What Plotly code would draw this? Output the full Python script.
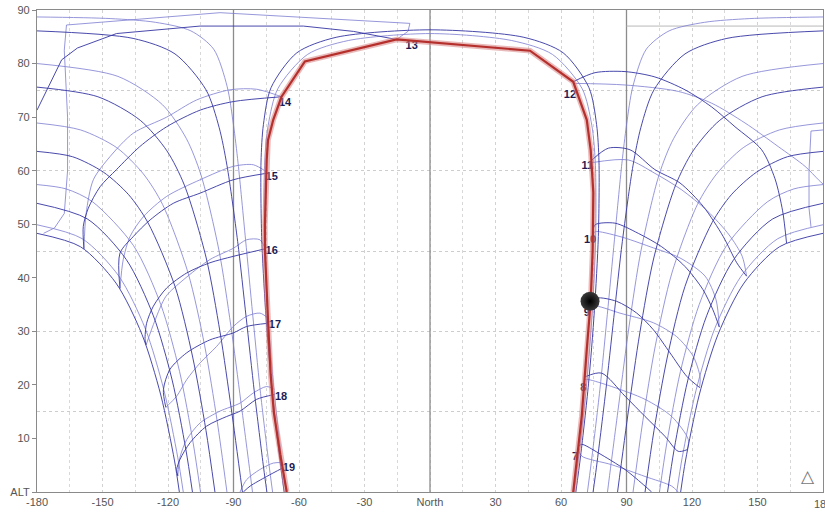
import plotly.graph_objects as go

# ---------------- axis ticks / grid ----------------
x_ticks = [-180, -150, -120, -90, -60, -30, 0, 30, 60, 90, 120, 150]
x_tick_text = ["-180", "-150", "-120", "-90", "-60", "-30", "North", "30", "60", "90", "120", "150"]
x_edge_tick = [180]
x_edge_text = ["180"]
x_minor_grid = [-165, -135, -105, -75, -45, -15, 15, 45, 75, 105, 135, 165, 180]
y_ticks = [0, 10, 20, 30, 40, 50, 60, 70, 80, 90]
y_tick_text = ["ALT", "10", "20", "30", "40", "50", "60", "70", "80", "90"]
y_grid = [15, 30, 45, 60, 75]
ref_az = [-90, 0, 90]

# ---------------- day paths (west half: horizon -> meridian), [azimuth, altitude] ----------------
path_dec_dark = [[-114.8, 0], [-117.0, 5.8], [-123.3, 18.1], [-131.9, 29.4], [-143.8, 39.0], [-160.1, 45.8], [-180, 48.3]]
path_m54_dark = [[-108.8, 0], [-111.8, 7.9], [-118.1, 20.9], [-126.7, 32.9], [-139.1, 43.4], [-157.0, 51.0], [-180, 53.9]]
path_m64_dark = [[-98.5, 0], [-102.6, 11.5], [-108.7, 25.2], [-116.8, 38.4], [-129.2, 50.3], [-138.0, 55.5],
                 [-149.5, 59.7], [-163.7, 62.6], [-180, 63.6]]
path_m76_dark = [[-85.9, 0], [-91.0, 15.5], [-96.1, 29.7], [-102.5, 43.7], [-112.5, 57.3], [-120.5, 63.7],
                 [-132.7, 69.4], [-152.1, 73.8], [-180, 75.6]]
path_m86_dark = [[-74.7, 0], [-76.2, 4.5], [-80.4, 18.5], [-84.2, 32.6], [-88.1, 46.8], [-93.0, 61.0], [-96.6, 68.1],
                 [-102.6, 75.1], [-116.8, 81.8], [-136.0, 84.7], [-180, 86.1]]
path_north_dark = [[-66.8, 0], [-69.0, 6.8], [-72.6, 20.2], [-75.3, 33.9], [-77.1, 47.7], [-77.4, 61.6], [-76.3, 68.6],
                   [-72.8, 75.5], [-61.0, 82.0], [-43.0, 84.9], [0, 86.3]]

path_m50_light = [[-113.0, 0], [-115.5, 6.4], [-121.8, 18.9], [-130.4, 30.5], [-142.5, 40.3], [-159.3, 47.3], [-180, 49.9]]
path_m57_light = [[-105.1, 0], [-108.5, 9.2], [-114.7, 22.5], [-123.3, 35.0], [-135.8, 46.0], [-154.6, 54.2],
                  [-166.7, 56.6], [-180, 57.4]]
path_m69_light = [[-93.0, 0], [-97.5, 13.3], [-103.2, 27.3], [-110.8, 40.9], [-122.5, 53.7], [-131.3, 59.4],
                  [-143.5, 64.3], [-160.0, 67.6], [-180, 68.9]]
path_m80_light = [[-81.3, 0], [-82.1, 2.6], [-86.6, 16.8], [-91.2, 31.0], [-96.7, 45.2], [-104.9, 59.2], [-111.6, 66.0],
                  [-122.5, 72.3], [-142.9, 77.6], [-180, 80.0]]
path_m89_light = [[-72.1, 0], [-73.8, 5.3], [-77.8, 19.1], [-81.2, 33.1], [-84.5, 47.2], [-87.9, 61.4], [-90.0, 68.5],
                  [-92.9, 75.7], [-99.1, 82.7], [-109.5, 86.1], [-125.7, 87.7], [-146.5, 88.4], [-180, 88.7]]
path_north_light = [[-65.9, 0], [-68.2, 7.0], [-71.8, 20.4], [-74.4, 34.0], [-75.9, 47.8], [-75.7, 61.6], [-74.1, 68.5],
                    [-69.7, 75.3], [-56.1, 81.7], [-37.4, 84.3], [0, 85.6]]

# ---------------- hour lines (two branches each) ----------------
hour_dark = {
    7: [[67.9, 8.5], [69.5, 8.9], [77.1, 7.3], [89.3, 4.2], [98.5, 1.1], [101.5, 0]],
    8: [[70.9, 21.5], [78.6, 22.2], [89.3, 17.9], [98.5, 14.1], [107.6, 10.4], [113.7, 7.6], [117.8, 7.9]],
    9: [[73.4, 35.0], [76.3, 36.2], [85.5, 35.6], [94.7, 33.4], [102.3, 30.3], [109.9, 26.0], [117.6, 21.6], [123.5, 19.5]],
    10: [[74.6, 48.5], [75.6, 49.9], [84.7, 50.2], [95.4, 48.3], [106.1, 45.8], [116.8, 42.1], [125.0, 37.8],
         [129.6, 34.0], [132.5, 30.8]],
    11: [[74.2, 62.0], [81.7, 64.2], [91.6, 63.9], [103.0, 60.2], [114.5, 57.7], [125.2, 53.3], [134.3, 47.7],
         [140.5, 42.8], [145.0, 40.3]],
    12: [[65.6, 76.6], [75.6, 78.3], [89.3, 78.5], [103.0, 77.5], [116.8, 75.1], [129.0, 71.9], [139.7, 68.2],
         [151.9, 63.9], [158.0, 58.5], [161.5, 52.5], [163.3, 46.5]],
    14: [[-68.0, 73.8], [-90.1, 72.9], [-105.3, 71.3], [-120.6, 68.2], [-132.9, 64.5], [-143.6, 60.2], [-151.1, 57.0],
         [-156.5, 53.0], [-158.8, 49.6], [-158.5, 45.4]],
    15: [[-75.0, 59.5], [-90.1, 58.3], [-105.3, 55.8], [-117.6, 53.9], [-128.2, 50.8], [-135.9, 47.7], [-142.0, 44.6],
         [-142.0, 38.0]],
    16: [[-75.6, 45.4], [-90.1, 44.0], [-100.8, 42.8], [-111.4, 40.9], [-120.6, 38.1], [-126.7, 34.7], [-129.8, 31.5],
         [-130.5, 28.4], [-130.0, 27.5]],
    17: [[-74.3, 31.5], [-84.0, 30.9], [-90.1, 29.7], [-100.8, 28.4], [-111.4, 26.0], [-119.1, 22.9], [-122.1, 19.1],
         [-121.0, 15.8]],
    18: [[-71.3, 18.2], [-79.4, 17.3], [-87.0, 15.1], [-93.1, 14.1], [-102.3, 12.3], [-109.9, 9.2], [-114.5, 6.1],
         [-116.0, 4.2], [-115.5, 3.0]],
    19: [[-67.4, 4.5], [-74.8, 2.9], [-82.4, 1.1], [-85.5, 0]],
}
hour_light = {
    7: [[67.9, 8.0], [69.5, 6.7], [83.2, 5.1], [98.5, 2.9], [110.7, 1.1], [113.7, 0]],
    8: [[70.9, 21.0], [72.5, 21.0], [83.2, 19.7], [98.5, 17.3], [110.7, 14.1], [118.3, 9.8], [117.8, 7.9]],
    9: [[73.4, 34.5], [76.3, 34.7], [87.0, 33.4], [102.3, 31.6], [113.0, 29.0], [120.6, 25.3], [123.7, 21.5], [123.5, 19.5]],
    10: [[74.6, 48.0], [75.6, 48.6], [87.0, 47.7], [100.8, 45.8], [114.5, 43.7], [126.0, 40.3], [131.0, 35.9], [132.5, 30.8]],
    11: [[74.2, 61.5], [90.8, 62.0], [103.0, 59.5], [115.0, 56.5], [127.0, 52.5], [137.0, 48.0], [143.0, 44.0], [145.0, 40.3]],
    12: [[65.6, 76.3], [89.3, 76.0], [113.7, 74.8], [129.0, 72.6], [144.3, 68.9], [159.5, 64.5], [171.8, 60.8],
         [177.9, 58.3], [180, 57.5]],
    14: [[-68.0, 73.8], [-79.4, 75.2], [-91.6, 75.1], [-106.9, 73.2], [-120.6, 70.0], [-135.9, 67.0], [-146.6, 62.6],
         [-154.2, 58.3], [-157.5, 52.0], [-158.5, 45.4]],
    15: [[-75.0, 59.8], [-80.9, 61.1], [-90.1, 60.8], [-105.3, 58.3], [-120.6, 55.2], [-131.3, 51.4], [-137.4, 47.7],
         [-140.5, 43.4], [-142.0, 38.0]],
    16: [[-75.6, 45.6], [-77.9, 47.1], [-84.0, 47.1], [-90.1, 45.5], [-100.8, 43.4], [-113.0, 39.6], [-121.0, 36.5],
         [-126.0, 32.0], [-130.0, 27.5]],
    17: [[-74.3, 32.5], [-77.9, 33.4], [-84.0, 32.8], [-90.1, 30.9], [-97.7, 27.2], [-105.3, 24.1], [-111.4, 21.0],
         [-116.0, 17.9], [-121.0, 15.8]],
    18: [[-71.3, 19.2], [-74.8, 19.7], [-80.9, 18.5], [-87.0, 16.6], [-96.2, 15.1], [-105.3, 12.9], [-111.4, 9.8],
         [-114.5, 6.5], [-115.5, 3.0]],
    19: [[-67.4, 5.5], [-71.8, 5.4], [-77.9, 4.2], [-84.0, 2.3], [-87.0, 0]],
}
# the 13 o'clock line runs near the zenith and wraps across the south meridian
hour13_dark = [[-15.3, 84.5], [-35.0, 86.0], [-58.0, 87.0], [-90.2, 87.0], [-105.3, 87.0], [-143.6, 85.6],
               [-161.5, 82.9], [-168.7, 80.7], [-180, 71.3]]
hour13_light = [[-15.3, 84.5], [-10.1, 86.0], [-9.2, 87.5], [-96.2, 89.5], [-166.5, 87.2], [-167.5, 82.5],
                [-166.0, 70.0], [-166.0, 60.0], [-167.5, 52.0], [-172.0, 49.3], [-177.0, 48.3]]
edge_piece_light = [[180, 67.6], [174.5, 67.4], [173.6, 60.0], [173.6, 53.0], [174.5, 49.5]]
obstruction_line = [[90, 87.0], [180, 87.0]]

# ---------------- highlighted day (red) ----------------
red_az = [-65.6, -68.6, -71.5, -73.0, -74.0, -75.0, -75.6, -75.6, -75.2, -74.8, -74.2, -71.8, -68.0, -57.3, -15.3,
          45.8, 65.6, 71.8, 73.6, 74.8, 74.5, 73.6, 71.8, 69.5, 65.6]
red_alt = [0, 7.0, 14.8, 22.0, 30.3, 38.0, 45.2, 50.0, 56.0, 62.0, 65.7, 69.5, 73.8, 80.4, 84.5,
           82.4, 76.6, 69.5, 63.9, 55.9, 45.2, 35.6, 26.6, 14.1, 0]

hour_labels = ["7", "8", "9", "10", "11", "12", "13", "14", "15", "16", "17", "18", "19"]
label_az = [66.4, 70.2, 71.8, 73.3, 72.0, 64.1, -8.4, -66.4, -72.5, -72.5, -71.0, -68.2, -64.6]
label_alt = [6.4, 19.4, 33.4, 47.1, 60.8, 74.1, 83.2, 72.5, 58.8, 44.9, 31.2, 17.6, 4.5]

sun_az = [73.3]
sun_alt = [35.6]

DARK = "rgba(58,58,165,0.92)"
LIGHT = "rgba(125,125,210,0.80)"
FONT = "Liberation Sans, Arial, sans-serif"


def mirror(seg):
    return [[-a, h] for a, h in seg]


def flatten(segs):
    xs, ys = [], []
    for s in segs:
        for a, h in s:
            xs.append(a)
            ys.append(h)
        xs.append(None)
        ys.append(None)
    return xs, ys


dark_south = [path_dec_dark, path_m54_dark, path_m64_dark, path_m76_dark, path_m86_dark]
light_south = [path_m50_light, path_m57_light, path_m69_light, path_m80_light, path_m89_light]

dark_segs = []
for p in dark_south:
    dark_segs += [p, mirror(p)]
dark_segs.append(path_north_dark + mirror(path_north_dark)[::-1][1:])
dark_segs += list(hour_dark.values())

light_segs = []
for p in light_south:
    light_segs += [p, mirror(p)]
light_segs.append(path_north_light + mirror(path_north_light)[::-1][1:])
light_segs += list(hour_light.values())

fig = go.Figure()

# reference meridian lines (West / North / East)
rx, ry = [], []
for a in ref_az:
    rx += [a, a, None]
    ry += [0, 90, None]
fig.add_trace(go.Scatter(x=rx, y=ry, mode="lines", line=dict(color="#8c8c8c", width=1.3), hoverinfo="skip"))

ox, oy = flatten([obstruction_line])
fig.add_trace(go.Scatter(x=ox, y=oy, mode="lines", line=dict(color="#b8b8b8", width=1), hoverinfo="skip"))

lx, ly = flatten(light_segs)
fig.add_trace(go.Scatter(x=lx, y=ly, mode="lines", line=dict(color=LIGHT, width=1, shape="spline", smoothing=0.8),
                         hoverinfo="skip"))
lx2, ly2 = flatten([hour13_light, edge_piece_light])
fig.add_trace(go.Scatter(x=lx2, y=ly2, mode="lines", line=dict(color=LIGHT, width=1), hoverinfo="skip"))

dx, dy = flatten(dark_segs)
fig.add_trace(go.Scatter(x=dx, y=dy, mode="lines", line=dict(color=DARK, width=1, shape="spline", smoothing=0.8),
                         hoverinfo="skip"))
dx2, dy2 = flatten([hour13_dark])
fig.add_trace(go.Scatter(x=dx2, y=dy2, mode="lines", line=dict(color=DARK, width=1), hoverinfo="skip"))

fig.add_trace(go.Scatter(x=label_az, y=label_alt, mode="text", text=hour_labels,
                         textfont=dict(family=FONT, size=11, color="#1c1c55", weight="bold"),
                         hoverinfo="skip"))

fig.add_trace(go.Scatter(x=red_az, y=red_alt, mode="lines",
                         line=dict(color="rgba(215,130,130,0.55)", width=5.5), hoverinfo="skip"))
fig.add_trace(go.Scatter(x=red_az, y=red_alt, mode="lines",
                         line=dict(color="#b5302c", width=2.2), hoverinfo="skip"))

fig.add_trace(go.Scatter(x=sun_az, y=sun_alt, mode="markers",
                         marker=dict(size=19, color="#3a3a3a", line=dict(width=0),
                                     gradient=dict(type="radial", color="#000000")),
                         hoverinfo="skip"))

fig.update_layout(
    width=825, height=516,
    margin=dict(l=37, r=2, t=10, b=24),
    paper_bgcolor="white", plot_bgcolor="white",
    showlegend=False,
    font=dict(family=FONT, size=11, color="#555555"),
    xaxis=dict(range=[-180, 180], tickmode="array", tickvals=x_ticks, ticktext=x_tick_text,
               showgrid=True, gridcolor="#d2d2d2", griddash="dot", gridwidth=1,
               minor=dict(tickmode="array", tickvals=x_minor_grid, showgrid=True, gridcolor="#d8d8d8",
                          griddash="dot", ticks=""),
               zeroline=False, showline=True, linecolor="#8a8a8a", linewidth=1.2, mirror=True,
               ticks="", tickfont=dict(size=11, color="#555555"), fixedrange=True),
    yaxis=dict(range=[0, 90], tickmode="array", tickvals=y_ticks, ticktext=y_tick_text,
               showgrid=False,
               minor=dict(tickmode="array", tickvals=y_grid, showgrid=True, gridcolor="#cdcdcd",
                          griddash="dot", ticks=""),
               zeroline=False, showline=True, linecolor="#8a8a8a", linewidth=1.2, mirror=True,
               ticks="outside", ticklen=4, tickcolor="#8a8a8a",
               tickfont=dict(size=11, color="#555555"), fixedrange=True),
)

# the last azimuth label sits on the right border (partly cut off, as in the source)
for v, t in zip(x_edge_tick, x_edge_text):
    fig.add_annotation(xref="x", yref="paper", x=v, y=0, yanchor="top", yshift=-4, text=t, showarrow=False,
                       font=dict(size=11, color="#555555", family=FONT))

fig.add_annotation(xref="paper", yref="paper", x=0.9924, y=0.008, text="△", showarrow=False,
                   font=dict(size=17, color="#777777"))

fig.write_html("out.html")
